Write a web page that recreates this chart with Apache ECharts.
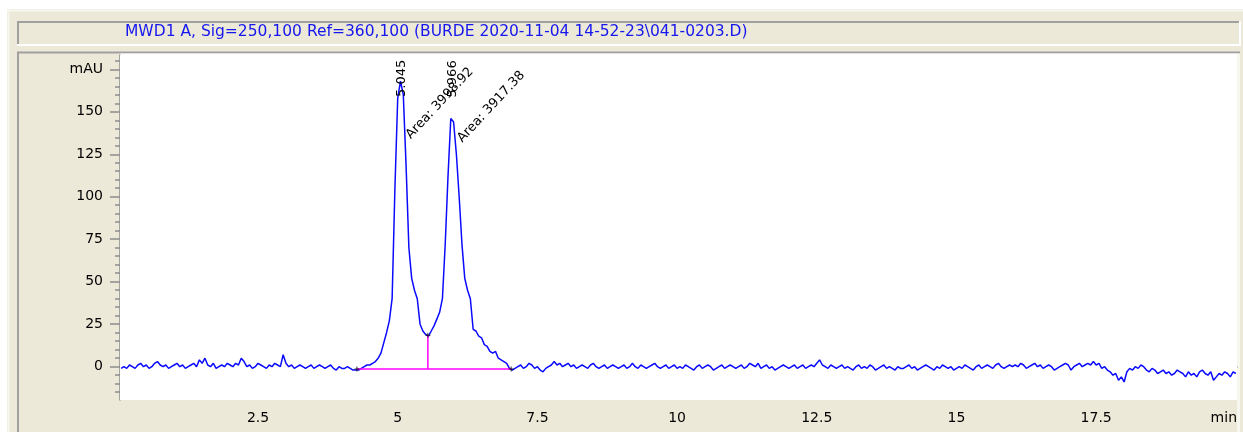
<!DOCTYPE html>
<html><head><meta charset="utf-8">
<script src="https://cdn.jsdelivr.net/npm/echarts@6/dist/echarts.min.js"></script>
<style>html,body{margin:0;padding:0;background:#fff}#c{width:1243px;height:432px}</style>
</head><body><div id="c"></div>
<script>
// ---------- data ----------
const titleText = 'MWD1 A, Sig=250,100 Ref=360,100 (BURDE 2020-11-04 14-52-23\\041-0203.D)';
const yUnit = 'mAU';
const xUnit = 'min';
// sampling grid of the detector trace (min)
const startTime = 0.05;
const sampleStep = 0.05;
// detector signal (mAU), one value per sample
const signal = [
  -1, 0, -1, 1, 0, -1, 1, 2, 0, 1, -1, 0, 2, 3, 1, 0, 1, -1, 0, 1,
  2, 0, 1, -1, 0, 1, 2, 0, 4, 2, 5, 1, 0, 2, -1, 0, 1, 0, 2, 1,
  0, 2, 1, 5, 3, 0, 1, -1, 0, 2, 1, 0, -1, 1, 0, 2, 1, 0, 7, 2,
  0, 1, -1, 0, 1, 0, -1, 0, 1, -1, 0, 1, 0, -1, 0, 1, -1, -2, 0, -1,
  -1, 0, -1, -2, -2, -2, -1, 0, 1, 1, 2, 3, 5, 8, 14, 20, 27, 40, 105, 158,
  168, 160, 118, 70, 52, 45, 40, 25, 21, 19, 18, 21, 24, 28, 32, 40, 72, 112, 146, 144,
  125, 100, 72, 52, 45, 40, 22, 21, 18, 17, 13, 12, 9, 8, 9, 5, 4, 3, 2, -1,
  -2, -1, 0, 1, -1, 0, 2, 1, -1, 0, -2, -3, -1, 0, 1, 3, 1, 2, 0, 1,
  2, 0, 1, -1, 0, 1, 0, -1, 1, 2, 0, -1, 0, 1, -1, 0, 1, 0, -1, 0,
  1, -1, 0, 2, 0, -1, 1, 0, -1, 0, 1, 2, 0, -1, 0, 1, -1, 0, 1, -1,
  0, -1, 1, 0, -1, -2, 0, 1, -1, 0, 1, 0, -2, -1, 0, 1, -1, 0, 1, 0,
  -1, 0, 1, -1, 0, 2, 1, 0, 2, -1, 0, 1, -1, 0, -2, -1, 0, 1, 0, -1,
  0, 1, -1, 0, 1, -1, 0, 1, 0, 2, 4, 1, 0, -1, 1, 0, -1, 0, 1, -1,
  0, -1, -2, 0, 1, -1, 0, -1, 1, 0, -2, -1, 0, 1, -1, 0, -1, -2, 0, -1,
  -1, 0, 1, -1, 0, -2, -1, 0, 1, 0, -1, -2, 0, -1, 1, 0, -1, 0, -2, -1,
  0, -1, 1, 0, -1, -2, 0, 1, -1, 0, 1, 0, -1, 1, 2, 0, -1, 0, 1, 0,
  1, 0, 2, 1, -1, 0, 1, 2, 0, 1, -1, 0, 1, 0, -2, -1, 0, 1, 2, 1,
  -2, 0, 1, 2, 0, 1, 2, 1, 3, 1, 2, -1, 0, -2, -3, -5, -4, -8, -6, -9,
  -3, -1, -2, 0, -1, 1, 0, -2, -3, -1, -2, -4, -3, -2, -4, -3, -5, -4, -2, -3,
  -4, -6, -3, -5, -4, -6, -3, -2, -4, -5, -3, -8, -6, -4, -5, -3, -4, -6, -3, -4
];
const xTickLabels = [2.5, 5, 7.5, 10, 12.5, 15, 17.5];
const xMinorTicks = [0.5, 1, 1.5, 2, 2.5, 3, 3.5, 4, 4.5, 5, 5.5, 6, 6.5, 7, 7.5, 8, 8.5, 9, 9.5, 10,
  10.5, 11, 11.5, 12, 12.5, 13, 13.5, 14, 14.5, 15, 15.5, 16, 16.5, 17, 17.5, 18, 18.5, 19, 19.5, 20];
const yTickLabels = [0, 25, 50, 75, 100, 125, 150, 175];
const yMinorTicks = [-15, -10, -5, 0, 5, 10, 15, 20, 25, 30, 35, 40, 45, 50, 55, 60, 65, 70, 75, 80, 85, 90,
  95, 100, 105, 110, 115, 120, 125, 130, 135, 140, 145, 150, 155, 160, 165, 170, 175, 180];
// integrated peaks
const peakRT = [5.045, 5.966];
const peakApex = [168, 146];
const peakArea = ['3998.92', '3917.38'];
// integration baseline and drop line
const baselineStartEnd = [4.27, 7.03];
const baselineLevel = -1.3;
const dropTime = 5.54;
const dropTop = 18.5;

// ---------- chart ----------
const tracePoints = signal.map((v, i) => [+(startTime + i * sampleStep).toFixed(3), v]);
const FONT = 'DejaVu Sans';
const chart = echarts.init(document.getElementById('c'), null, {renderer: 'canvas'});
const gray = '#8c8c8c';

const frame = [
  {type: 'rect', z: 0, shape: {x: 0, y: 0, width: 1243, height: 9}, style: {fill: '#ffffff'}},
  {type: 'rect', z: 0, shape: {x: 0, y: 0, width: 7, height: 432}, style: {fill: '#ffffff'}},
  {type: 'line', z: 0, shape: {x1: 7, y1: 10.5, x2: 1243, y2: 10.5}, style: {stroke: '#f7f6ef', lineWidth: 2}},
  {type: 'line', z: 0, shape: {x1: 8.5, y1: 9, x2: 8.5, y2: 432}, style: {stroke: '#f7f6ef', lineWidth: 2}},
  // title box
  {type: 'line', z: 0, shape: {x1: 17, y1: 22, x2: 1240, y2: 22}, style: {stroke: '#a0a0a0', lineWidth: 2}},
  {type: 'line', z: 0, shape: {x1: 18, y1: 21, x2: 18, y2: 45}, style: {stroke: '#a0a0a0', lineWidth: 2}},
  {type: 'line', z: 0, shape: {x1: 17, y1: 45, x2: 1241, y2: 45}, style: {stroke: '#ffffff', lineWidth: 2}},
  {type: 'line', z: 0, shape: {x1: 1240, y1: 21, x2: 1240, y2: 46}, style: {stroke: '#ffffff', lineWidth: 2}},
  // chart box
  {type: 'line', z: 0, shape: {x1: 17, y1: 52.5, x2: 1240, y2: 52.5}, style: {stroke: '#a0a0a0', lineWidth: 2}},
  {type: 'line', z: 0, shape: {x1: 18, y1: 52, x2: 18, y2: 432}, style: {stroke: '#a0a0a0', lineWidth: 2}},
  {type: 'rect', z: 0, shape: {x: 1237, y: 53.5, width: 3, height: 380}, style: {fill: '#f7f6ef'}},
  {type: 'rect', z: 0, shape: {x: 120, y: 53.5, width: 1117, height: 2}, style: {fill: '#ffffff'}},
  {type: 'text', z: 5, x: 1237, y: 418, style: {text: xUnit, font: '14px "' + FONT + '"', fill: '#000', align: 'right', verticalAlign: 'middle'}}
];

chart.setOption({
  animation: false,
  backgroundColor: '#ECE9D8',
  textStyle: {fontFamily: FONT},
  title: {
    text: titleText, left: 125, top: 24, padding: 0,
    textStyle: {color: '#1616ee', fontFamily: FONT, fontSize: 15.5, fontWeight: 'normal'}
  },
  grid: {left: 120, top: 55, width: 1117, height: 345, show: true, backgroundColor: '#ffffff', borderWidth: 0, z: 1},
  xAxis: [
    {type: 'value', min: 0.03, max: 20.02, position: 'bottom', splitLine: {show: false},
     axisLine: {show: true, lineStyle: {color: gray, width: 1.5}},
     axisTick: {show: true, customValues: xTickLabels, length: 9, lineStyle: {color: gray, width: 1.5}},
     axisLabel: {show: true, customValues: xTickLabels, margin: 11, color: '#000', fontSize: 14, fontFamily: FONT,
       formatter: v => String(v)}},
    {type: 'value', min: 0.03, max: 20.02, position: 'bottom', splitLine: {show: false},
     axisLine: {show: false},
     axisTick: {show: true, customValues: xMinorTicks, length: 5, lineStyle: {color: gray, width: 1.5}},
     axisLabel: {show: false}}
  ],
  yAxis: [
    {type: 'value', min: -19.6, max: 183.4, position: 'left', splitLine: {show: false},
     axisLine: {show: true, lineStyle: {color: gray, width: 1.5}},
     axisTick: {show: true, customValues: yTickLabels, length: 10, lineStyle: {color: gray, width: 1.5}},
     axisLabel: {show: true, customValues: yTickLabels, margin: 17, color: '#000', fontSize: 14, fontFamily: FONT,
       formatter: v => (v === 175 ? yUnit : String(v))}},
    {type: 'value', min: -19.6, max: 183.4, position: 'left', splitLine: {show: false},
     axisLine: {show: false},
     axisTick: {show: true, customValues: yMinorTicks, length: 5, lineStyle: {color: gray, width: 1.5}},
     axisLabel: {show: false}}
  ],
  series: [
    {type: 'line', name: 'signal', data: tracePoints, showSymbol: false, symbol: 'none', clip: true,
     lineStyle: {color: '#0a0aff', width: 1.5}, z: 3},
    {type: 'line', name: 'baseline', data: [[baselineStartEnd[0], baselineLevel], [baselineStartEnd[1], baselineLevel]],
     showSymbol: false, symbol: 'none', lineStyle: {color: '#ff00ff', width: 1.5}, z: 4},
    {type: 'line', name: 'drop', data: [[dropTime, baselineLevel], [dropTime, dropTop]],
     showSymbol: false, symbol: 'none', lineStyle: {color: '#ff00ff', width: 1.5}, z: 4},
    {type: 'scatter', name: 'marks',
     data: [[baselineStartEnd[0], baselineLevel], [dropTime, dropTop], [baselineStartEnd[1], baselineLevel]],
     symbol: 'path://M2,0H3V2H5V3H3V5H2V3H0V2H2Z', symbolSize: 5, itemStyle: {color: '#000'}, z: 5}
  ],
  graphic: frame
});

// peak annotations, positioned through the chart's own scales
const plotTop = 55;
const labels = [];
peakRT.forEach((rt, i) => {
  const p = chart.convertToPixel({xAxisIndex: 0, yAxisIndex: 0}, [rt, peakApex[i]]);
  const rtY = Math.max(p[1] - 21, plotTop + 42);
  labels.push({type: 'text', z: 10, x: p[0] + 1, y: rtY, rotation: Math.PI / 2,
    style: {text: rt.toFixed(3), font: '13px "' + FONT + '"', fill: '#000', align: 'left', verticalAlign: 'middle'}});
  const arY = Math.max(p[1] + 22, 137);
  labels.push({type: 'text', z: 10, x: p[0] + 8, y: arY, rotation: 47 * Math.PI / 180,
    style: {text: 'Area: ' + peakArea[i], font: '13px "' + FONT + '"', fill: '#000', align: 'left', verticalAlign: 'middle'}});
});
chart.setOption({graphic: frame.concat(labels)});
</script>
</body></html>
